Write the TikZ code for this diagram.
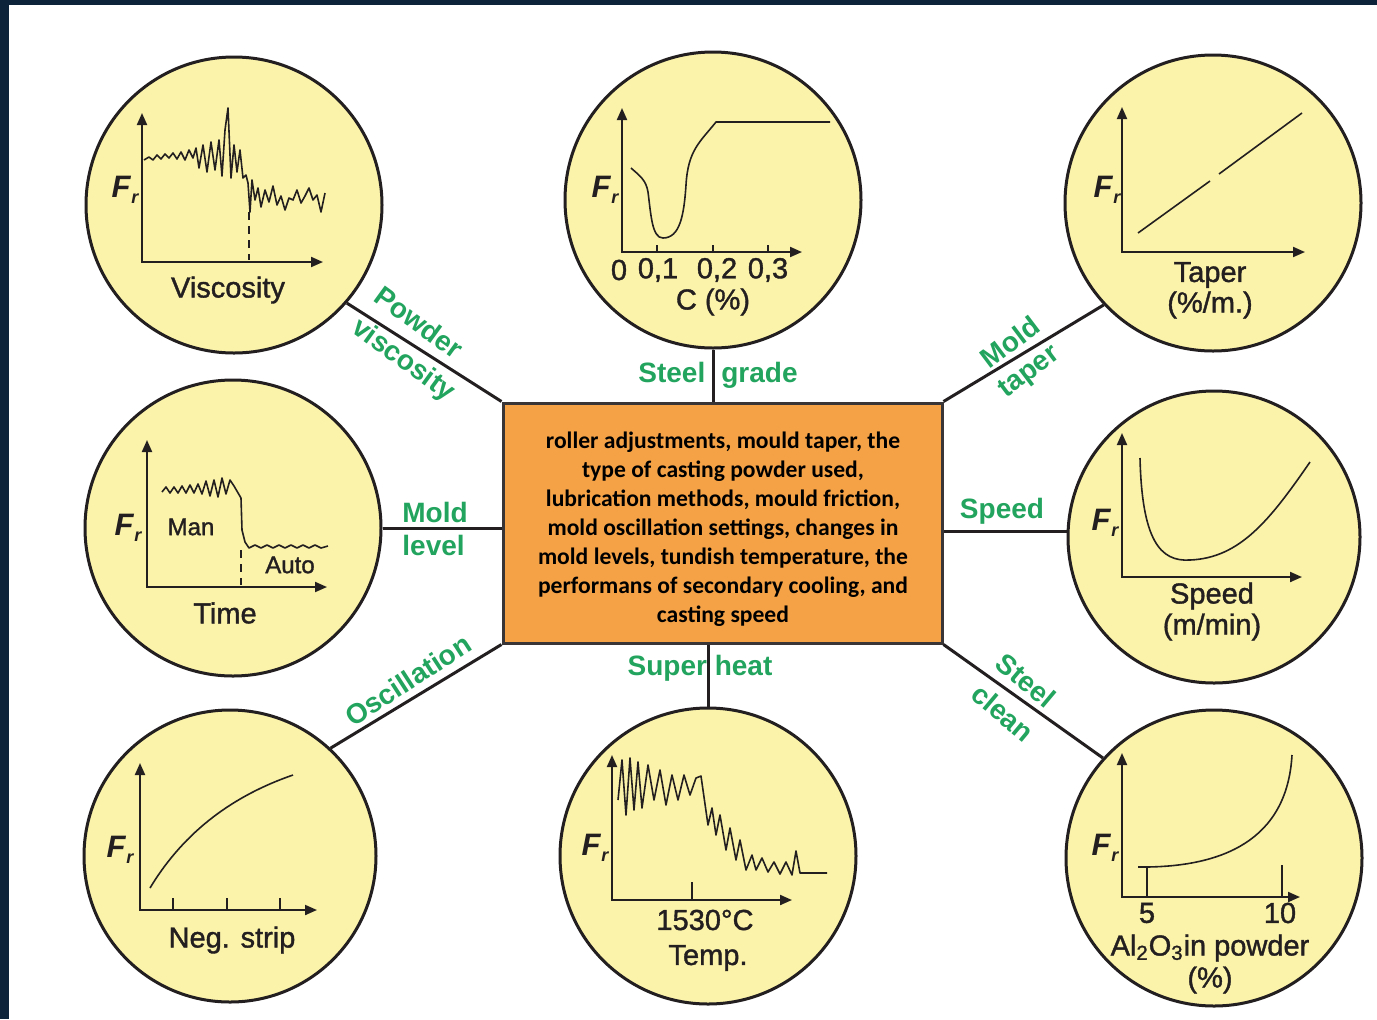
\documentclass[tikz,border=0pt]{standalone}
\usepackage{fontspec}
\setmainfont{Liberation Sans}
\newfontfamily\boxfont{Carlito}
\newfontfamily\lblfont[BoldFont={Liberation Sans}, BoldFeatures={FakeBold=1.3}]{Liberation Sans}
\usetikzlibrary{arrows.meta}
\definecolor{navy}{HTML}{0C2339}
\definecolor{bubfill}{HTML}{FBF3AA}
\definecolor{boxfill}{HTML}{F5A247}
\definecolor{lblgreen}{HTML}{22A45E}
\definecolor{ink}{HTML}{231F20}
\newcommand{\Fr}{F\kern0.5pt\raisebox{-0.4ex}{\fontsize{9}{9}\selectfont r}}
\begin{document}
\begin{tikzpicture}[x=0.5pt,y=-0.5pt,
 bub/.style={circle, draw=ink, line width=1.5pt, fill=bubfill, minimum size=148pt, inner sep=0pt},
 cbox/.style={draw=ink!90, line width=1.5pt, fill=boxfill, minimum width=219.5pt, minimum height=120pt, inner sep=0pt},
 btext/.style={align=center, inner sep=0pt, font=\boxfont\bfseries\fontsize{11.8}{14.5}\selectfont},
 conn/.style={draw=ink, line width=1.5pt},
 axes/.style={draw=ink, line width=1pt, {Triangle[length=6pt,width=5pt]}-{Triangle[length=6pt,width=5pt]}},
 curve/.style={draw=ink, line width=0.8pt, line join=round},
 tickline/.style={draw=ink, line width=0.9pt},
 dashline/.style={draw=ink, line width=0.9pt, dash pattern=on 4pt off 3pt},
 lbl/.style={font=\lblfont\bfseries\fontsize{14.5}{16}\selectfont, text=ink, inner sep=0pt},
 glbl/.style={font=\bfseries\fontsize{14}{14}\selectfont, text=lblgreen, inner sep=0pt},
 frl/.style={font=\bfseries\itshape\fontsize{15.5}{15.5}\selectfont, text=ink, inner sep=0pt},
]
\useasboundingbox (0,0) rectangle (1377,1019);
\fill[white] (0,0) rectangle (1377,1019);
\fill[navy] (0,0) rectangle (1377,5);
\fill[navy] (0,0) rectangle (9,1019);

% central box
\node[cbox] (box) at (722.5,523) {};
\node[btext] (boxtext) at (723,529) {roller adjustments, mould taper, the\\type of casting powder used,\\lubrication methods, mould friction,\\mold oscillation settings, changes in\\mold levels, tundish temperature, the\\performans of secondary cooling, and\\casting speed};

% circles
\node[bub] (c1) at (234,205) {};
\node[bub] (c2) at (713,200) {};
\node[bub] (c3) at (1213,203) {};
\node[bub] (c4) at (233,528) {};
\node[bub, minimum size=146pt] (c5) at (1214,537) {};
\node[bub, minimum size=146pt] (c6) at (230,856) {};
\node[bub] (c7) at (708,856) {};
\node[bub, minimum size=148pt] (c8) at (1214,858) {};

% connectors
\draw[conn] (c1.-41) -- (box.north west);
\draw[conn] (c2.south) -- (c2.south |- box.north);
\draw[conn] (c3.223) -- (box.north east);
\draw[conn] (c4.east) -- (c4.east -| box.west);
\draw[conn] (c5.178) -- (c5.178 -| box.east);
\draw[conn] (c6.47) -- (box.south west);
\draw[conn] (c7.north) -- (c7.north |- box.south);
\draw[conn] (c8.138) -- (box.south east);

% green labels
\node[glbl, rotate=-36] (g1a) at (419,322) {Powder};
\node[glbl, rotate=-36] (g1b) at (403,361) {viscosity};
\node[glbl] (g2) at (718,375) {Steel\hspace{8pt}grade};
\node[glbl, rotate=37] (g3a) at (1010,342) {Mold};
\node[glbl, rotate=37] (g3b) at (1030,373) {taper};
\node[glbl, anchor=west] (g4a) at (402,512) {Mold};
\node[glbl, anchor=west] (g4b) at (402,545) {level};
\node[glbl] (g5) at (1002,511) {Speed};
\node[glbl, rotate=33] (g6) at (408,680) {Oscillation};
\node[glbl] (g7) at (700,668) {Super heat};
\node[glbl, rotate=-40] (g8a) at (1026,680) {Steel};
\node[glbl, rotate=-40] (g8b) at (1003,713) {clean};

% ---- graph 1: viscosity
\draw[axes] (142,113) -- (142,262) -- (323,262);
\draw[curve] (144,160) -- (149,157) -- (153,160) -- (157,155) -- (161,159) -- (165,154) -- (169,158) -- (173,153) -- (177,159) -- (181,152) -- (185,160) -- (189,150) -- (193,158) -- (196,148) -- (199,168) -- (203,145) -- (207,172) -- (211,142) -- (215,170) -- (219,140) -- (222,176) -- (225,130) -- (228,108) -- (231,178) -- (234,145) -- (237,172) -- (240,150) -- (243,178) -- (246,175) -- (248,183) -- (250,212) -- (252,180) -- (255,200) -- (258,188) -- (261,207) -- (265,190) -- (269,202) -- (273,186) -- (277,205) -- (281,196) -- (285,210) -- (289,198) -- (293,200) -- (297,190) -- (301,203) -- (305,196) -- (309,188) -- (313,200) -- (317,195) -- (321,212) -- (325,193);
\draw[dashline] (249,212) -- (249,260);
\node[frl] (f1) at (125,190) {\Fr};
\node[lbl] (t1) at (228,290) {Viscosity};

% ---- graph 2: steel grade
\draw[axes] (622,108) -- (622,252) -- (802,252);
\draw[tickline] (657,252) -- (657,245);
\draw[tickline] (713,252) -- (713,245);
\draw[tickline] (768,252) -- (768,245);
\draw[curve] (631,168) .. controls (640,176) and (646,180) .. (648,192) .. controls (651,215) and (652,238) .. (663,238) .. controls (680,238) and (684,215) .. (686,185) .. controls (688,150) and (700,142) .. (716,122) -- (830,122);
\node[frl] (f2) at (605,190) {\Fr};
\node[lbl] (t2a) at (619,270) {0};
\node[lbl] (t2b) at (658,270) {0,1};
\node[lbl] (t2c) at (717,270) {0,2};
\node[lbl] (t2d) at (768,270) {0,3};
\node[lbl] (t2e) at (713,302) {C (\%)};

% ---- graph 3: taper
\draw[axes] (1122,107) -- (1122,252) -- (1305,252);
\draw[curve] (1138,233) -- (1210,181);
\draw[curve] (1219,174) -- (1302,113);
\node[frl] (f3) at (1107,190) {\Fr};
\node[lbl] (t3a) at (1210,275) {Taper};
\node[lbl] (t3b) at (1210,305) {(\%/m.)};

% ---- graph 4: time
\draw[axes] (147,440) -- (147,587) -- (327,587);
\draw[curve] (162,492) -- (166,487) -- (170,493) -- (174,487) -- (178,493) -- (182,486) -- (186,493) -- (190,485) -- (194,493) -- (198,484) -- (202,494) -- (206,481) -- (210,496) -- (214,480) -- (218,497) -- (222,478) -- (226,494) -- (230,480) -- (234,486) -- (241,498) -- (242,530) -- (245,542) -- (249,548) -- (255,545) -- (261,548) -- (267,545) -- (273,548) -- (279,545) -- (285,548) -- (291,545) -- (297,548) -- (303,545) -- (309,548) -- (315,545) -- (321,548) -- (328,546);
\draw[dashline] (241,550) -- (241,585);
\node[frl] (f4) at (128,528) {\Fr};
\node[lbl, font=\lblfont\bfseries\fontsize{12}{12}\selectfont] (t4a) at (191,527) {Man};
\node[lbl, font=\lblfont\bfseries\fontsize{12}{12}\selectfont] (t4b) at (290,565) {Auto};
\node[lbl] (t4c) at (225,613) {Time};

% ---- graph 5: speed
\draw[axes] (1122,433) -- (1122,577) -- (1302,577);
\draw[curve] (1140,458) .. controls (1142,540) and (1160,562) .. (1190,560) .. controls (1240,558) and (1270,520) .. (1310,462);
\node[frl] (f5) at (1105,523) {\Fr};
\node[lbl] (t5a) at (1212,596) {Speed};
\node[lbl] (t5b) at (1212,627) {(m/min)};

% ---- graph 6: negative strip
\draw[axes] (140,763) -- (140,910) -- (317,910);
\draw[tickline] (173,910) -- (173,898);
\draw[tickline] (227,910) -- (227,898);
\draw[tickline] (280,910) -- (280,898);
\draw[curve] (150,888) .. controls (185,830) and (235,795) .. (293,775);
\node[frl] (f6) at (120,850) {\Fr};
\node[lbl] (t6) at (232,940) {Neg. strip};

% ---- graph 7: temperature
\draw[axes] (612,755) -- (612,900) -- (792,900);
\draw[tickline] (692,900) -- (692,882);
\draw[curve] (618,800) -- (622,760) -- (626,815) -- (630,758) -- (634,810) -- (638,762) -- (642,808) -- (648,765) -- (654,800) -- (660,770) -- (666,805) -- (672,775) -- (678,800) -- (684,775) -- (690,795) -- (696,778) -- (701,776) -- (708,825) -- (712,808) -- (716,835) -- (720,815) -- (726,850) -- (730,828) -- (736,860) -- (740,840) -- (746,870) -- (752,855) -- (756,870) -- (762,858) -- (768,872) -- (774,862) -- (780,874) -- (786,862) -- (792,875) -- (796,851) -- (800,873) -- (827,873);
\node[frl] (f7) at (595,848) {\Fr};
\node[lbl] (t7a) at (705,920) {1530°C};
\node[lbl] (t7b) at (708,958) {Temp.};

% ---- graph 8: Al2O3
\draw[axes] (1122,753) -- (1122,897) -- (1300,897);
\draw[tickline] (1147,897) -- (1147,867);
\draw[tickline] (1282,897) -- (1282,865);
\draw[curve] (1138,867) -- (1147,867) .. controls (1220,866) and (1287,842) .. (1292,755);
\node[frl] (f8) at (1105,848) {\Fr};
\node[lbl] (t8a) at (1147,913) {5};
\node[lbl] (t8b) at (1280,913) {10};
\node[lbl] (t8c) at (1210,948) {Al\textsubscript{2}O\textsubscript{3}in powder};
\node[lbl] (t8d) at (1210,980) {(\%)};
\end{tikzpicture}
\end{document}
